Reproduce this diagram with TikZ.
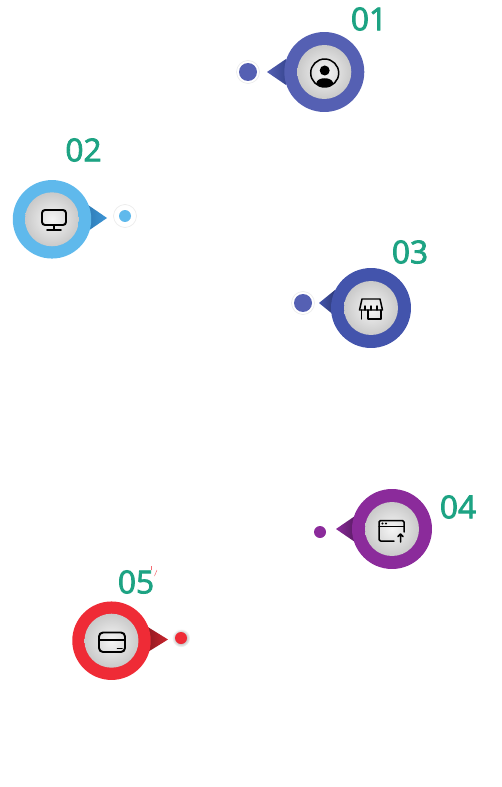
\documentclass[tikz,border=0pt]{standalone}
\usepackage{fontspec}
\setmainfont{Open Sans}
\newfontfamily\numfont[FakeBold=2.5]{Open Sans}
\definecolor{Num}{HTML}{1DA383}
\definecolor{Slate}{HTML}{5560B3}
\definecolor{Sky}{HTML}{5FB9EC}
\definecolor{SkyDark}{HTML}{2F7DB8}
\definecolor{SkyTip}{HTML}{3D96D6}
\definecolor{Navy}{HTML}{4354AC}
\definecolor{Plum}{HTML}{8B2B9B}
\definecolor{Scarlet}{HTML}{EF2B36}
\tikzset{
 ring/.style={circle,minimum size=1.6cm,inner sep=0pt},
 disc/.style={circle,minimum size=1.08cm,inner sep=0pt,inner color=gray!8,outer color=gray!42},
 halo/.style={circle,fill=white,draw=gray!15,line width=.4pt,minimum size=.46cm,inner sep=0pt},
 bigdot/.style={circle,minimum size=.36cm,inner sep=0pt},
 smalldot/.style={circle,minimum size=.24cm,inner sep=0pt},
 num/.style={font=\numfont\fontsize{18}{18}\selectfont,text=Num,inner sep=0pt},
 icon/.style={draw=black,line width=.85pt,line join=round,line cap=round},
}
\newcommand{\pin}[9]{
 \shade[left color=#5,right color=#6](#7,#9)--(#8,#9-13)--(#8,#9+13)--cycle;
 \node[ring,fill=#4](#1ring)at(#2,#3){};
 \node[disc](#1disc)at(#2,#3){};}
\begin{document}
\begin{tikzpicture}[x=.02cm,y=-.02cm]
 \useasboundingbox(0,0)rectangle(502,787);
 % pins
 \pin{one}{324.3}{72}{Slate}{Slate}{Navy!85!black}{267}{286}{72}
 \begin{scope}[ring/.append style={minimum size=1.57cm}]
 \pin{two}{52}{219.3}{Sky}{SkyDark}{SkyTip}{107}{88}{218}
 \pin{five}{111.5}{640.7}{Scarlet}{Scarlet!60!black}{Scarlet!85!black}{168}{147}{639.5}
 \end{scope}
 \pin{three}{371}{308}{Navy}{Navy}{Navy!70!black}{319}{335}{303}
 \pin{four}{392}{529}{Plum}{Plum}{Plum!65!black}{336}{355}{529}
 % dots
 \node[halo](onehalo)at(248,72){};
 \node[bigdot,fill=Slate](onedot)at(248,72){};
 \node[halo](twohalo)at(125,216){};
 \node[smalldot,fill=Sky](twodot)at(125,216){};
 \node[halo](threehalo)at(303,303){};
 \node[bigdot,fill=Slate](threedot)at(303,303){};
 \node[smalldot,fill=Plum](fourdot)at(320,532){};
 \node[circle,minimum size=.37cm,inner sep=0pt,inner color=black!55,outer color=white](fivehalo)at(181,638){};
 \node[smalldot,fill=Scarlet](fivedot)at(181,638){};
 % numbers
 \node[num](onelabel)at(369,19){01};
 \node[num](twolabel)at(83.5,150){02};
 \node[num](threelabel)at(410,252){03};
 \node[num](fourlabel)at(458,507){04};
 \node[num](fivelabel)at(136,582){05};
 \draw[Scarlet!70,line width=.3pt](151.5,566)--(151.5,570)(157,570)--(154.5,576);
 % icon 01
 \begin{scope}[shift={(324.7,73)}]
 \draw[icon](0,0)circle(14);
 \fill(0,-2.5)circle(5);
 \begin{scope}
 \clip(0,0)circle(14);
 \fill(-9,14)--(-8,9)..controls(-6,4)and(6,4)..(8,9)--(9,14)--cycle;
 \end{scope}
 \end{scope}
 % icon 02
 \begin{scope}[shift={(54,219)}]
 \draw[icon,line width=1.1pt,rounded corners=.06cm](-12,-9)rectangle(12,6);
 \draw[icon,line width=1.1pt](0,6)--(0,11)(-7,11)--(7,11);
 \end{scope}
 % icon 03
 \begin{scope}[shift={(371,308)}]
 \draw[icon](-9,-9)--(9,-9)--(11.5,2)--(-11.5,2)--cycle;
 \draw[icon](-9.5,2)--(-9.5,11)(-3,2)--(-3,11)--(10,11)--(10,2);
 \draw[icon](-6,-2)--(-6,2)(0,-2)--(0,2)(6,-2)--(6,2);
 \end{scope}
 % icon 04
 \begin{scope}[shift={(392,529)}]
 \draw[icon,rounded corners=.03cm](2,12)--(-13,12)--(-13,-8.5)--(12,-8.5)--(12,3);
 \draw[icon](-13,-2.5)--(12,-2.5);
 \fill(-9.5,-5.5)circle(1.1)(-6,-5.5)circle(1.1);
 \draw[icon](8.5,13)--(8.5,5)(6,7.5)--(8.5,5)--(11,7.5);
 \end{scope}
 % icon 05
 \begin{scope}[shift={(112,642.5)}]
 \draw[icon,line width=1.1pt,rounded corners=.08cm](-13,-10)rectangle(13,9.5);
 \draw[icon](-13,-2.5)--(13,-2.5);
 \draw[icon,line width=1.1pt](5.5,6)--(10,6);
 \end{scope}
\end{tikzpicture}
\end{document}
